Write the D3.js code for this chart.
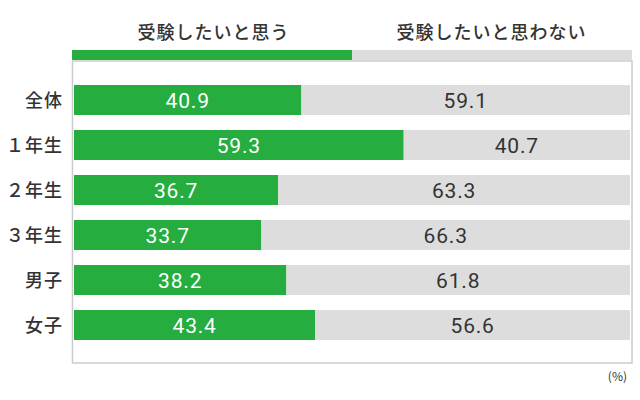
<html>
<head>
<meta charset="utf-8">
<title>受験意向</title>
<script src="https://d3js.org/d3.v7.min.js"></script>
<style>
  body { margin: 0; background: #fff; }
  text { font-family: "Noto Sans CJK JP", sans-serif; }
  .num { font-family: Roboto, "Noto Sans CJK JP", sans-serif; }
</style>
</head>
<body>
<div id="chart"></div>
<script>
// data
var categories = ["全体", "１年生", "２年生", "３年生", "男子", "女子"];
var wantValues = [40.9, 59.3, 36.7, 33.7, 38.2, 43.4];
var notValues = [59.1, 40.7, 63.3, 66.3, 61.8, 56.6];
var seriesNames = ["受験したいと思う", "受験したいと思わない"];
var unitLabel = "(%)";

var wth = 640, ht = 400;
var green = "#25ad40", gray = "#dcdddc", ink = "#333333";

var svg = d3.select("#chart").append("svg")
    .attr("width", wth)
    .attr("height", ht);

// x scale: 0-100%
var x = d3.scaleLinear().domain([0, 100]).range([74, 630]);

// rows: 30px bars, 45px step
var y = d3.scaleBand()
    .domain(categories)
    .range([85, 340])
    .paddingInner(1 / 3)
    .paddingOuter(0);

// legend bar on top
svg.append("rect")
    .attr("x", 72).attr("y", 50)
    .attr("width", 632 - 72).attr("height", 10)
    .attr("fill", gray);
svg.append("rect")
    .attr("x", 72).attr("y", 50)
    .attr("width", x(50) - 72).attr("height", 10)
    .attr("fill", green);

svg.selectAll(".legendText")
    .data(seriesNames)
    .enter().append("text")
    .attr("x", function(d, i) { return (i == 0 ? x(25) : x(75)) + 0.5; })
    .attr("y", 39)
    .attr("text-anchor", "middle")
    .style("font-size", "18px")
    .style("letter-spacing", "1px")
    .style("font-weight", "500")
    .attr("fill", ink)
    .text(function(d) { return d; });

// frame
svg.append("rect")
    .attr("x", 72.5).attr("y", 61)
    .attr("width", 632 - 72.5).attr("height", 302)
    .attr("fill", "none")
    .attr("stroke", "#cccccc")
    .attr("stroke-width", 1.5);

var rows = categories.map(function(c, i) {
    return { cat: c, want: wantValues[i], not: notValues[i] };
});

var g = svg.selectAll(".row")
    .data(rows)
    .enter().append("g");

g.append("rect")
    .attr("x", x(0))
    .attr("y", function(d) { return y(d.cat); })
    .attr("width", function(d) { return x(d.want) - x(0); })
    .attr("height", y.bandwidth())
    .attr("fill", green);

g.append("rect")
    .attr("x", function(d) { return x(d.want); })
    .attr("y", function(d) { return y(d.cat); })
    .attr("width", function(d) { return x(100) - x(d.want); })
    .attr("height", y.bandwidth())
    .attr("fill", gray);

g.append("text")
    .attr("class", "num")
    .attr("x", function(d) { return x(d.want / 2); })
    .attr("y", function(d) { return y(d.cat) + y.bandwidth() / 2 + 7.5; })
    .attr("text-anchor", "middle")
    .style("font-size", "21px")
    .style("letter-spacing", "0.8px")
    .attr("fill", "#ffffff")
    .text(function(d) { return d.want.toFixed(1); });

g.append("text")
    .attr("class", "num")
    .attr("x", function(d) { return x(d.want + d.not / 2); })
    .attr("y", function(d) { return y(d.cat) + y.bandwidth() / 2 + 7.5; })
    .attr("text-anchor", "middle")
    .style("font-size", "21px")
    .style("letter-spacing", "0.8px")
    .attr("fill", ink)
    .text(function(d) { return d.not.toFixed(1); });

g.append("text")
    .attr("x", 63)
    .attr("y", function(d) { return y(d.cat) + y.bandwidth() / 2 + 6.5; })
    .attr("text-anchor", "end")
    .style("font-size", "18px")
    .style("letter-spacing", "1px")
    .style("font-weight", "500")
    .attr("fill", ink)
    .text(function(d) { return d.cat; });

svg.append("text")
    .attr("x", 627).attr("y", 381)
    .attr("text-anchor", "end")
    .style("font-size", "12px")
    .attr("fill", ink)
    .text(unitLabel);
</script>
</body>
</html>
